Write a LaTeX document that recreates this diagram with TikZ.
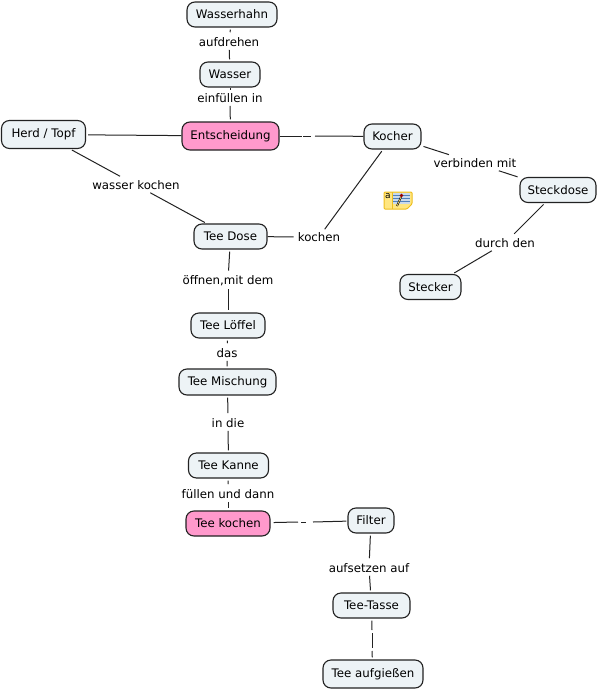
\documentclass[tikz,border=0pt]{standalone}
\usepackage{fontspec}
\setmainfont{DejaVu Sans}
\definecolor{boxfill}{HTML}{EDF3F6}
\definecolor{boxpink}{HTML}{FF99CC}
\definecolor{linegray}{HTML}{222222}
\definecolor{noteyellow}{HTML}{FFE680}
\definecolor{noteedge}{HTML}{EDBE1E}
\definecolor{noteblue}{HTML}{4F81BD}
\tikzset{
	concept/.style={draw=linegray, line width=1.1pt, rounded corners=8pt, fill=boxfill, inner sep=0pt, minimum height=25pt, text=black},
	tall/.style={concept, minimum height=28pt},
	hot/.style={concept, fill=boxpink},
	linklabel/.style={inner xsep=2pt, inner ysep=3pt, text=black},
	link/.style={draw=linegray, line width=1pt}
}

\begin{document}
\begin{tikzpicture}[x=1pt, y=-1pt, every node/.style={font=\fontsize{11.8pt}{13pt}\selectfont}]
	\useasboundingbox (0,0) rectangle (598,689);
	% concepts
	\foreach \n/\x/\y/\w/\t in {wasserhahn/232/14.5/90/Wasserhahn, wasser/230/74.5/60/Wasser, kocher/392.5/136.5/57/Kocher, teedose/230.5/236.5/73/Tee Dose, steckdose/558/190/76/Steckdose, stecker/430.5/287/61/Stecker, loeffel/228/325.5/74/Tee Löffel, kanne/228.5/465.5/80/Tee Kanne, filter/371/520.5/46/Filter, tasse/371.5/605.5/77/Tee-Tasse}
		{\node[concept, minimum width=\w pt] (\n) at (\x,\y) {\t};}
	\node[tall, minimum width=84pt] (herd) at (43.5,134.5) {Herd / Topf};
	\node[tall, minimum width=97pt, minimum height=26pt] (mischung) at (227.5,382) {Tee Mischung};
	\node[tall, minimum width=100pt] (aufgiessen) at (373,674) {Tee aufgießen};
	\node[hot, minimum width=97pt, minimum height=28pt] (entscheidung) at (230.5,136) {Entscheidung};
	\node[hot, minimum width=84pt] (teekochen) at (228,523.5) {Tee kochen};
	% labels on the links
	\foreach \n/\x/\y/\t in {aufdrehen/229/42/aufdrehen, einfuellen/230/98/einfüllen in, wasserkochen/136/185/wasser kochen, verbinden/475/163/verbinden mit, durchden/505/243/durch den, kochen/319/237/kochen, oeffnen/228/281/{öffnen,mit dem}, das/227/353/das, indie/228/423/in die, fuellen/228/494/füllen und dann, aufsetzen/369/568/aufsetzen auf}
		{\node[linklabel] (\n) at (\x,\y) {\t};}
	% links
	\foreach \a/\b/\c in {wasserhahn/aufdrehen/wasser, wasser/einfuellen/entscheidung, herd/wasserkochen/teedose, kocher/verbinden/steckdose, steckdose/durchden/stecker, teedose/oeffnen/loeffel, loeffel/das/mischung, mischung/indie/kanne, kanne/fuellen/teekochen, filter/aufsetzen/tasse}
		{\draw[link, shorten <=2pt, shorten >=2pt] (\a) -- (\b); \draw[link, shorten <=0pt, shorten >=2pt] (\b) -- (\c);}
	\draw[link, shorten <=2pt] (herd) -- (entscheidung);
	\draw[link, shorten <=2pt] (kocher) -- (kochen);
	\draw[link, shorten <=2pt] (kochen) -- (teedose);
	% links with a broken middle
	\coordinate (ekA) at (302,136);
	\coordinate (ekB) at (303,136);
	\coordinate (ekC) at (311,136);
	\coordinate (ekD) at (315,136);
	\draw[link] (entscheidung) -- (ekA);
	\draw[link] (ekB) -- (ekC);
	\draw[link] (ekD) -- (kocher);
	\coordinate (tfA) at (298,522);
	\coordinate (tfB) at (301,522);
	\coordinate (tfC) at (306,522);
	\coordinate (tfD) at (313,522);
	\draw[link, shorten <=3pt] (teekochen) -- (tfA);
	\draw[link] (tfB) -- (tfC);
	\draw[link, shorten >=1pt] (tfD) -- (filter);
	\coordinate (ttA) at (372,630);
	\coordinate (ttB) at (372,633);
	\coordinate (ttC) at (372,648);
	\coordinate (ttD) at (372,651);
	\draw[link, shorten <=2pt] (tasse) -- (ttA);
	\draw[link] (ttB) -- (ttC);
	\draw[link, shorten >=2pt] (ttD) -- (aufgiessen);
	% note icon
	\fill[noteyellow, draw=noteedge, line width=1pt, rounded corners=1pt] (384,192) -- (412,192) -- (412,204) -- (407,209) -- (384,209) -- cycle;
	\draw[noteedge, line width=0.5pt] (392,192) -- (392,209);
	\fill[white!70!noteblue] (393,193) rectangle (410,204);
	\foreach \y in {195,198,201} {\draw[noteblue, line width=0.7pt] (393,\y) -- (410,\y);}
	\node[inner sep=0pt, text=black, font=\fontsize{9pt}{10pt}\selectfont] (notea) at (388,196.5) {a};
	\draw[black, line width=1.8pt] (397,206) -- (401,197);
	\draw[noteyellow, line width=0.7pt] (397,206) -- (401,197);
	\fill[red!60!black] (401.5,195.5) circle (1.8pt);
\end{tikzpicture}
\end{document}
